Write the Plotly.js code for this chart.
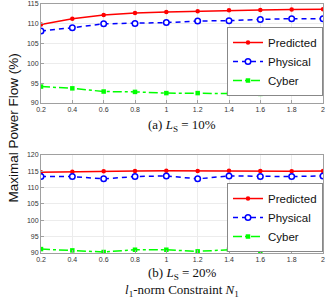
<!DOCTYPE html>
<html>
<head>
<meta charset="utf-8">
<script src="https://cdn.plot.ly/plotly-3.0.1.min.js"></script>
<style>html,body{margin:0;padding:0;background:#fff;}#chart{width:331px;height:300px;}</style>
</head>
<body>
<div id="chart"></div>
<script>
// Data
const n1 = [0.2, 0.4, 0.6, 0.8, 1.0, 1.2, 1.4, 1.6, 1.8, 2.0];
const xTickLabels = ["0.2", "0.4", "0.6", "0.8", "1", "1.2", "1.4", "1.6", "1.8", "2"];
const seriesNames = ["Predicted", "Physical", "Cyber"];

// (a) L_S = 10%
const predictedA = [109.8, 111.3, 112.2, 112.7, 113.0, 113.2, 113.4, 113.5, 113.6, 113.7];
const physicalA  = [108.2, 109.0, 110.0, 110.1, 110.3, 110.7, 110.8, 111.1, 111.3, 111.3];
const cyberA     = [94.15, 93.7, 92.9, 92.8, 92.5, 92.5, 92.4, 92.3, 92.5, 92.4];

// (b) L_S = 20%
const predictedB = [114.7, 114.9, 115.0, 115.1, 115.2, 115.1, 115.2, 115.1, 115.0, 115.1];
const physicalB  = [113.4, 113.4, 112.7, 113.4, 113.6, 112.7, 113.6, 113.4, 113.4, 113.6];
const cyberB     = [91.2, 90.8, 90.3, 91.0, 91.0, 90.5, 91.0, 90.6, 91.0, 91.0];

const yTicksA = [90, 95, 100, 105, 110, 115];
const yTicksB = [90, 95, 100, 105, 110, 115, 120];

const styles = [
  {line: {color: '#ff0000', width: 1.5, dash: 'solid'}, marker: {symbol: 'circle', size: 4.5, color: '#ff0000'}},
  {line: {color: '#0000ff', width: 1.5, dash: '5px,4px'}, marker: {symbol: 'circle', size: 5.5, color: '#ffffff', line: {color: '#0000ff', width: 1.5}}},
  {line: {color: '#00ff00', width: 1.5, dash: 'dashdot'}, marker: {symbol: 'square', size: 4.5, color: '#00ff00'}}
];

function mk(y, i, xa, ya, leg) {
  return {
    x: n1, y: y, name: seriesNames[i], type: 'scatter', mode: 'lines+markers',
    xaxis: xa, yaxis: ya, legend: leg,
    line: styles[i].line, marker: styles[i].marker
  };
}

const data = [
  mk(predictedA, 0, 'x', 'y', 'legend'),
  mk(physicalA, 1, 'x', 'y', 'legend'),
  mk(cyberA, 2, 'x', 'y', 'legend'),
  mk(predictedB, 0, 'x2', 'y2', 'legend2'),
  mk(physicalB, 1, 'x2', 'y2', 'legend2'),
  mk(cyberB, 2, 'x2', 'y2', 'legend2')
];

const axCommon = {
  showline: true, mirror: true, linecolor: '#a0a0a0', linewidth: 1,
  gridcolor: '#ececec', gridwidth: 1, zeroline: false,
  ticks: 'inside', ticklen: 3, tickcolor: '#a0a0a0',
  tickfont: {family: 'Liberation Sans, Arial, sans-serif', size: 7, color: '#333'}
};

const legCommon = {
  bgcolor: '#ffffff', bordercolor: '#888', borderwidth: 1,
  font: {family: 'Liberation Sans, Arial, sans-serif', size: 11.5, color: '#111'},
  xanchor: 'right', yanchor: 'top', x: 1, itemwidth: 30, tracegroupgap: 0
};

const layout = {
  width: 331, height: 300,
  margin: {l: 41, r: 8, t: 4, b: 47},
  paper_bgcolor: '#fff', plot_bgcolor: '#fff',
  showlegend: true,
  xaxis: Object.assign({}, axCommon, {domain: [0, 1], anchor: 'y', range: [0.2, 2], tickvals: n1, ticktext: xTickLabels}),
  yaxis: Object.assign({}, axCommon, {domain: [0.6024, 1], anchor: 'x', range: [90, 115], tickvals: yTicksA}),
  xaxis2: Object.assign({}, axCommon, {domain: [0, 1], anchor: 'y2', range: [0.2, 2], tickvals: n1, ticktext: xTickLabels}),
  yaxis2: Object.assign({}, axCommon, {domain: [0, 0.3936], anchor: 'x2', range: [90, 120], tickvals: yTicksB}),
  legend: Object.assign({}, legCommon, {y: 0.9076}),
  legend2: Object.assign({}, legCommon, {y: 0.281}),
  annotations: [
    {text: 'Maximal Power Flow (%)', textangle: -90, xref: 'paper', yref: 'paper', x: -0.099, y: 0.5,
     xanchor: 'center', yanchor: 'middle', showarrow: false,
     font: {family: 'Liberation Sans, Arial, sans-serif', size: 13.5, color: '#111'}},
    {text: '(a) <i>L</i><sub>S</sub> = 10%', xref: 'paper', yref: 'paper', x: 0.5, y: 0.514,
     xanchor: 'center', yanchor: 'middle', showarrow: false,
     font: {family: 'Liberation Serif, DejaVu Serif, serif', size: 13, color: '#111'}},
    {text: '(b) <i>L</i><sub>S</sub> = 20%', xref: 'paper', yref: 'paper', x: 0.5, y: -0.082,
     xanchor: 'center', yanchor: 'middle', showarrow: false,
     font: {family: 'Liberation Serif, DejaVu Serif, serif', size: 13, color: '#111'}},
    {text: '<i>l</i><sub>1</sub>-norm Constraint <i>N</i><sub>1</sub>', xref: 'paper', yref: 'paper', x: 0.5, y: -0.152,
     xanchor: 'center', yanchor: 'middle', showarrow: false,
     font: {family: 'Liberation Serif, DejaVu Serif, serif', size: 13, color: '#111'}}
  ]
};

Plotly.newPlot('chart', data, layout, {displayModeBar: false, staticPlot: true});
</script>
</body>
</html>
